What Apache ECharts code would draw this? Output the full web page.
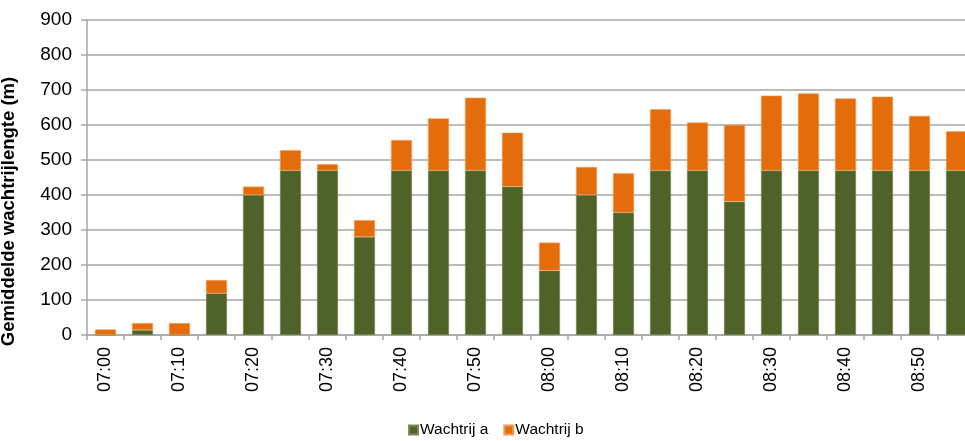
<!DOCTYPE html>
<html>
<head>
<meta charset="utf-8">
<script src="https://cdn.jsdelivr.net/npm/echarts@6/dist/echarts.min.js"></script>
<style>
  html, body { margin: 0; padding: 0; background: #fff; }
  #chart { width: 965px; height: 441px; }
</style>
</head>
<body>
<div id="chart"></div>
<script>
// tijdstippen (elke 5 minuten)
var times = ['07:00','07:05','07:10','07:15','07:20','07:25','07:30','07:35','07:40','07:45','07:50','07:55',
             '08:00','08:05','08:10','08:15','08:20','08:25','08:30','08:35','08:40','08:45','08:50','08:55'];
// wachtrij a
var queueA = [0, 14, 0, 119, 400, 470, 470, 280, 470, 470, 470, 424,
              184, 400, 350, 470, 470, 381, 470, 470, 470, 470, 470, 470];
// wachtrij b (bovenop a)
var queueB = [16, 20, 34, 38, 24, 58, 18, 48, 87, 149, 208, 154,
              80, 80, 112, 175, 137, 219, 214, 220, 206, 211, 156, 112];
var yTicks = [0, 900, 100];
var legendNames = ['Wachtrij a', 'Wachtrij b'];
var colors = ['#4F6228', '#E46C0A'];

var myChart = echarts.init(document.getElementById('chart'));
myChart.setOption({
  animation: false,
  textStyle: { fontFamily: 'Liberation Sans, Arial, sans-serif' },
  // plot loopt rechts iets buiten beeld door
  grid: { left: 87, right: -10, top: 20, bottom: 106, outerBoundsMode: 'none' },
  legend: {
    data: legendNames,
    top: 417,
    left: 403,
    icon: 'rect',
    itemWidth: 9,
    itemHeight: 9,
    itemGap: 15,
    textStyle: { color: '#000', fontSize: 15.5, padding: [0, 0, 0, -3] }
  },
  xAxis: {
    type: 'category',
    data: times,
    axisLine: { lineStyle: { color: '#A6A6A6', width: 1.5 } },
    axisTick: { show: true, interval: 0, length: 5, lineStyle: { color: '#A6A6A6', width: 1.5 } },
    axisLabel: { interval: 1, rotate: 90, color: '#000', fontSize: 18, margin: 12 }
  },
  yAxis: {
    type: 'value',
    min: yTicks[0],
    max: yTicks[1],
    interval: yTicks[2],
    name: 'Gemiddelde wachtrijlengte (m)',
    nameLocation: 'middle',
    nameRotate: 90,
    nameGap: 69,
    nameTextStyle: { color: '#000', fontSize: 18.5, fontWeight: 'bold', padding: [0, 68, 0, 0] },
    axisLine: { show: true, lineStyle: { color: '#A6A6A6', width: 1.5 } },
    axisTick: { show: true, length: 6, lineStyle: { color: '#A6A6A6', width: 1.5 } },
    axisLabel: { color: '#000', fontSize: 19, margin: 15 },
    splitLine: { lineStyle: { color: '#A6A6A6', width: 1.5 } }
  },
  series: [
    {
      name: legendNames[0],
      type: 'bar',
      stack: 'q',
      data: queueA,
      barWidth: 21,
      itemStyle: { color: colors[0], borderColor: '#7A8A5A', borderWidth: 0.6 }
    },
    {
      name: legendNames[1],
      type: 'bar',
      stack: 'q',
      data: queueB,
      barWidth: 21,
      itemStyle: { color: colors[1], borderColor: '#F29A55', borderWidth: 0.6 }
    }
  ]
});
</script>
</body>
</html>
